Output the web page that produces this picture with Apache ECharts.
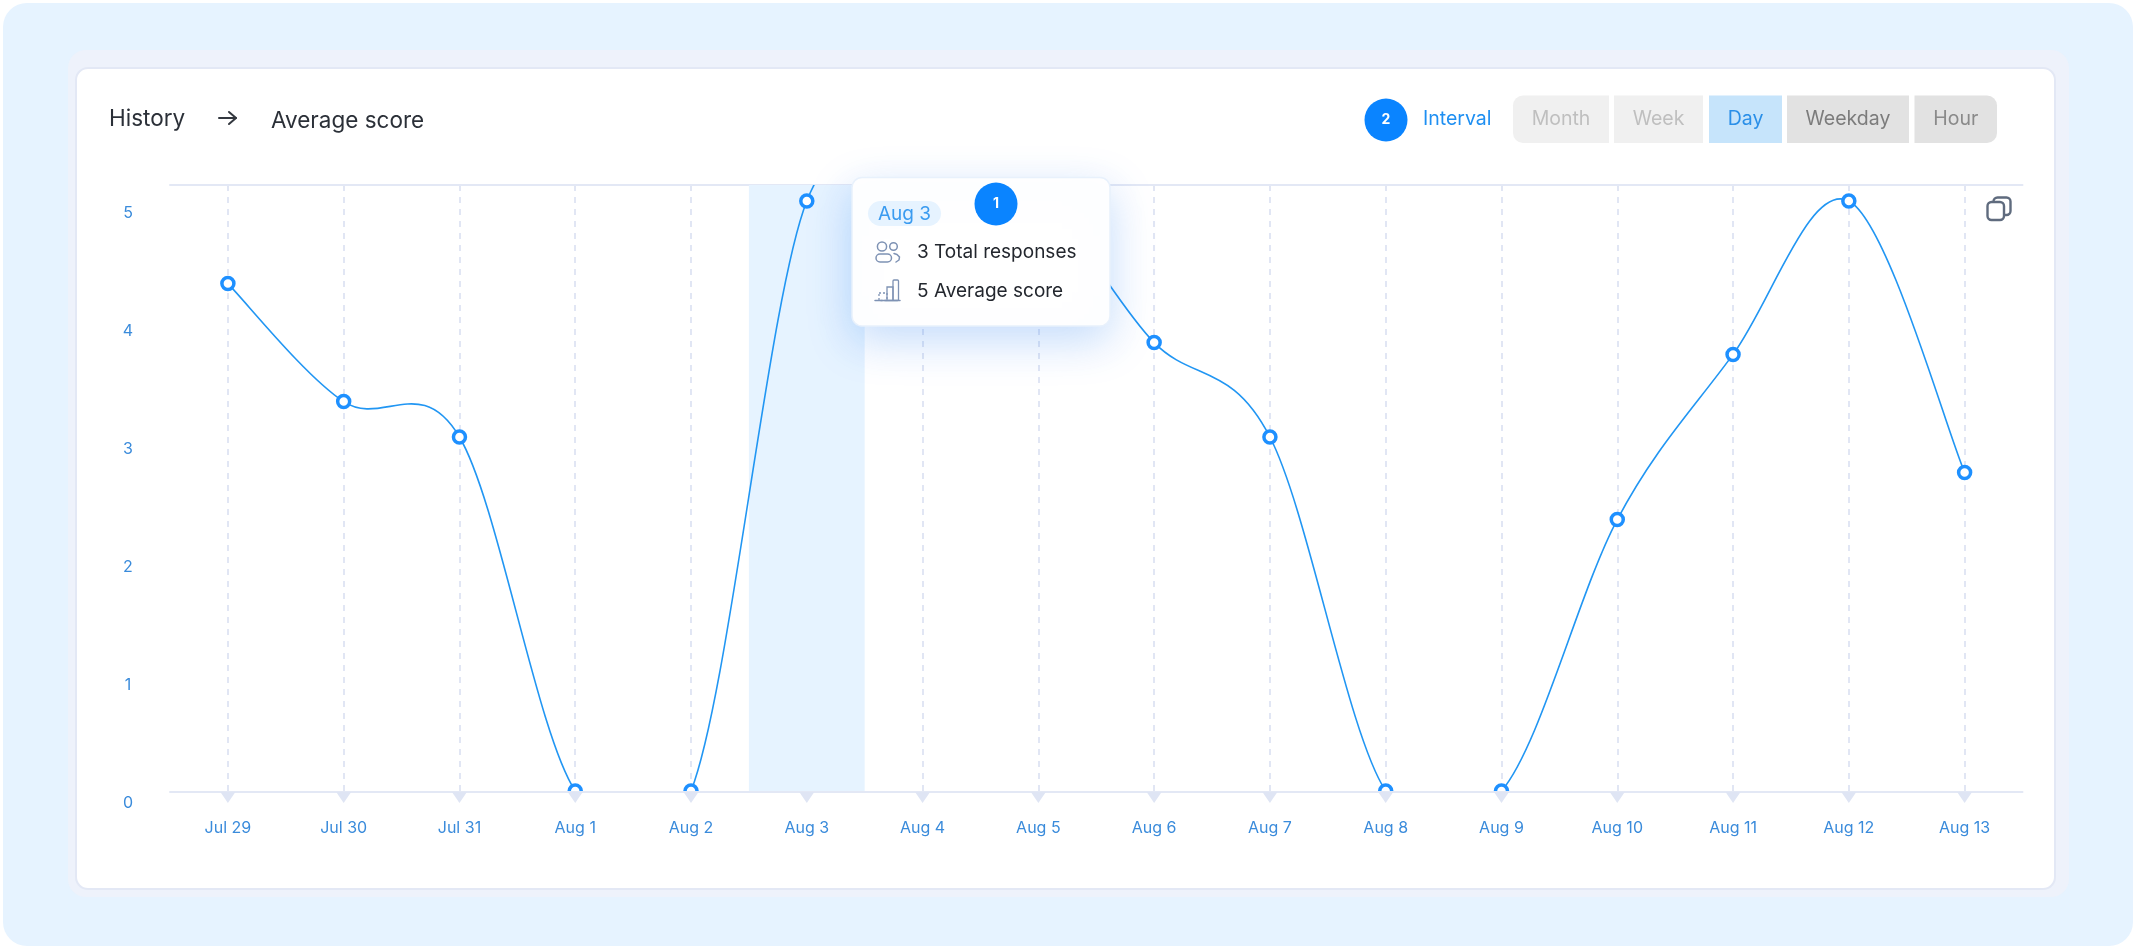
<!DOCTYPE html>
<html>
<head>
<meta charset="utf-8">
<style>html,body{margin:0;padding:0;background:#fff}#c{width:2136px;height:949px}</style>
<script src="https://cdn.jsdelivr.net/npm/echarts@6/dist/echarts.min.js"></script>
</head>
<body>
<div id="c"></div>
<script>
const categories = ['Jul 29','Jul 30','Jul 31','Aug 1','Aug 2','Aug 3','Aug 4','Aug 5','Aug 6','Aug 7','Aug 8','Aug 9','Aug 10','Aug 11','Aug 12','Aug 13'];
const averageScore = [4.3,3.3,3,0,0,5,5,5,3.8,3,0,0,2.3,3.7,5,2.7];
const highlightBand = [null,null,null,null,null,5.14,null,null,null,null,null,null,null,null,null,null];
const tickMarks = [0,0,0,0,0,0,0,0,0,0,0,0,0,0,0,0];
const intervalLabels = ['Month','Week','Day','Weekday','Hour'];

const F = 'Inter, sans-serif';
const LINE = '#E3E8F5';
const txt = (text,x,y,size,fill,align,weight,z) => ({type:'text',x,y,z:z||60,silent:true,
  style:{text,font:(weight||400)+' '+size+'px '+F,fill,textAlign:align||'left',textVerticalAlign:'middle'}});
const rect = (x,y,w,h,r,fill,z,extra) => ({type:'rect',z:z,silent:true,shape:{x,y,width:w,height:h,r},style:Object.assign({fill},extra||{})});
const circ = (cx,cy,r,fill,z,extra) => ({type:'circle',z:z,silent:true,shape:{cx,cy,r},style:Object.assign({fill},extra||{})});
const poly = (points,stroke,w,z) => ({type:'polyline',z:z,silent:true,shape:{points},style:{stroke,lineWidth:w,fill:'none',lineCap:'round',lineJoin:'round'}});

const btnGeom = [[1513,96],[1614,89],[1709,73],[1787,122],[1914.5,82.5]];
const btnStyle = [['#F0F0F0','#BFBFBF',[10,0,0,10]],['#F0F0F0','#BFBFBF',0],['#C6E4FB','#2A8FE8',0],['#E2E2E2','#7C7C7C',0],['#E2E2E2','#8A8A8A',[0,10,10,0]]];
const buttons = [];
intervalLabels.forEach((t,i)=>{
  const [x,w]=btnGeom[i],[bg,fg,r]=btnStyle[i];
  buttons.push(rect(x,95.5,w,47.5,r,bg,50));
  buttons.push(txt(t,x+w/2,119.5,19.5,fg,'center'));
});

const icon = '#7E92B4';
const graphics = [
  rect(3,3,2130,943,24,'#E6F3FF',-5),
  rect(68,50,2001,847,18,'#EEF2FB',-4),
  rect(76,68,1979,821,12,'#FFFFFF',-3,{stroke:LINE,lineWidth:2}),
  txt('History',109,119.5,22.5,'#2B3038'),
  poly([[219,118],[236,118]],'#33383F',2,60),
  poly([[229,112],[236,118],[229,124]],'#33383F',2,60),
  txt('Average score',271,121,22.5,'#2B3038'),
  circ(1386,120,21.5,'#0A84FF',60),
  txt('2',1386,120,14,'#FFFFFF','center',700,61),
  txt('Interval',1423,119.5,19.5,'#1E8FF2'),
  ...buttons,
  rect(1993.5,197.5,17,17.5,4,'#FFFFFF',60,{stroke:'#5F6B7E',lineWidth:2.4}),
  rect(1987.5,202,16.5,18,4,'#FFFFFF',61,{stroke:'#5F6B7E',lineWidth:2.4}),
  rect(170,793,1853,10,0,'#FFFFFF',5),
  rect(852,177.5,258,148.5,10,'#FFFFFF',100,{stroke:'#E8F1FC',lineWidth:1.5,shadowBlur:44,shadowOffsetY:14,shadowColor:'rgba(45,130,240,0.28)'}),
  rect(868,201,73,25,12.5,'#E6F3FF',101),
  txt('Aug 3',904.5,214,19,'#3A9BF0','center',400,102),
  circ(996,204,21.5,'#0A84FF',102),
  txt('1',996,204,14,'#FFFFFF','center',700,103),
  circ(882,246.5,4.6,'none',102,{stroke:icon,lineWidth:1.5}),
  circ(893.5,246.5,3.8,'none',102,{stroke:icon,lineWidth:1.5}),
  rect(876,254,15.5,8,4,'none',102,{stroke:icon,lineWidth:1.5}),
  poly([[894,253.5],[897,254.5],[899.5,257],[899,260],[896,262]],icon,1.5,102),
  txt('3 Total responses',917,252.5,19,'#23272E','left',400,102),
  poly([[875,300.5],[900,300.5]],icon,1.5,102),
  rect(893,280,5.5,20.5,1,'none',102,{stroke:icon,lineWidth:1.3}),
  rect(887,287,6,13.5,0,'none',102,{stroke:icon,lineWidth:1.3}),
  rect(879,293,8,7.5,0,'none',102,{stroke:icon,lineWidth:1.3,lineDash:[2,2]}),
  txt('5 Average score',917,291,19,'#23272E','left',400,102)
];

// Catmull-Rom spline through the named values, projected by the chart's own axes
const TENSION = 1/6;
function renderSpline(params, api){
  const i = params.dataIndex, n = averageScore.length;
  if (i >= n-1) return null;
  const P = k => { const j=Math.min(n-1,Math.max(0,k)); return api.coord([j, averageScore[j]]); };
  const p0=P(i), p1=P(i+1), a=P(i-1), b=P(i+2);
  return {type:'bezierCurve',
    shape:{x1:p0[0],y1:p0[1],x2:p1[0],y2:p1[1],
      cpx1:p0[0]+TENSION*(p1[0]-a[0]),cpy1:p0[1]+TENSION*(p1[1]-a[1]),
      cpx2:p1[0]-TENSION*(b[0]-p0[0]),cpy2:p1[1]-TENSION*(b[1]-p0[1])},
    style:{stroke:'#2196F3',lineWidth:1.6,fill:'none'}};
}

const chart = echarts.init(document.getElementById('c'),null,{renderer:'canvas',width:2136,height:949});
chart.setOption({
  animation:false,
  backgroundColor:'#FFFFFF',
  textStyle:{fontFamily:F},
  grid:{left:170,right:113.5,top:185,bottom:158,containLabel:false},
  graphic:{elements:graphics},
  xAxis:[
    {type:'category',data:categories,boundaryGap:true,position:'bottom',offset:1,
     axisLine:{show:false},axisTick:{show:false},
     axisLabel:{color:'#3A8BDB',fontSize:16,fontFamily:F,margin:28,interval:0},
     splitLine:{show:true,alignWithLabel:true,lineStyle:{color:'#DEE4F3',width:1.8,type:[6,6]}}},
    {type:'category',data:categories,position:'top',
     axisLine:{show:true,lineStyle:{color:LINE,width:2}},axisTick:{show:false},axisLabel:{show:false},splitLine:{show:false}},
    {type:'category',data:categories,position:'bottom',offset:1,z:6,
     axisLine:{show:true,lineStyle:{color:LINE,width:2}},axisTick:{show:false},axisLabel:{show:false},splitLine:{show:false}}
  ],
  yAxis:{type:'value',min:0,max:5.1356,interval:1,
    axisLine:{show:false},axisTick:{show:false},splitLine:{show:false},
    axisLabel:{color:'#3A8BDB',fontSize:16,fontFamily:F,margin:42,align:'center',verticalAlign:'top',lineHeight:25,
      showMaxLabel:false}},
  series:[
    {type:'bar',data:highlightBand,barWidth:'100%',z:1,silent:true,itemStyle:{color:'#E6F3FF'}},
    {type:'custom',data:averageScore.map((v,i)=>[i,v]),encode:{x:0,y:1},renderItem:renderSpline,clip:true,z:2,silent:true},
    {type:'line',data:averageScore,z:3,showAllSymbol:true,symbol:'circle',symbolSize:12,clip:true,silent:true,
     lineStyle:{opacity:0,width:0},
     itemStyle:{color:'#FFFFFF',borderColor:'#1E90FF',borderWidth:3.5}},
    {type:'scatter',data:tickMarks,z:7,symbol:'triangle',symbolSize:[15,11],symbolRotate:180,symbolOffset:[0,6.5],clip:false,silent:true,
     itemStyle:{color:'#DFE5F4',opacity:1}}
  ]
});
</script>
</body>
</html>
